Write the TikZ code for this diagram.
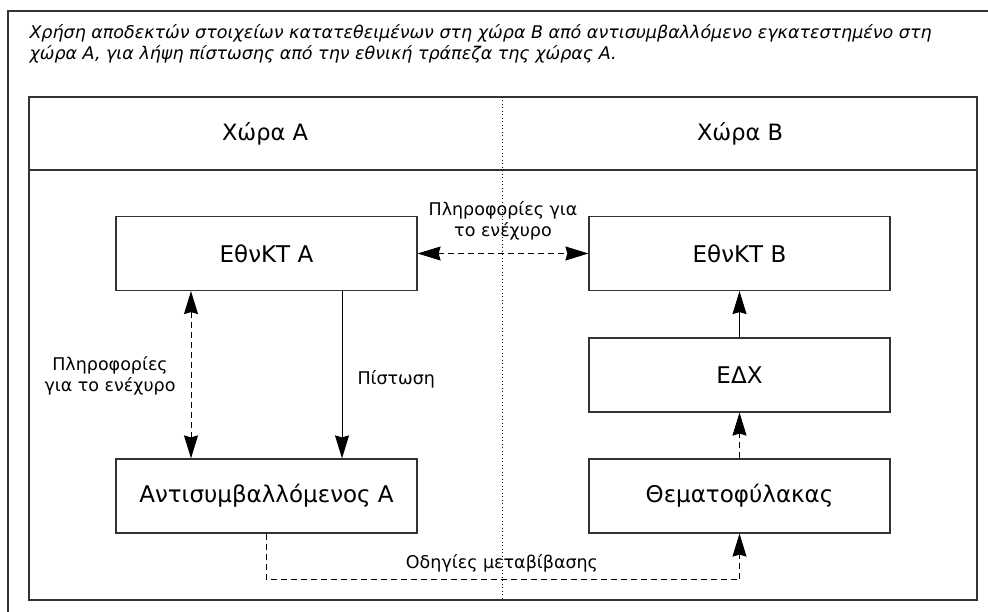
\documentclass[tikz,border=0pt]{standalone}
\usepackage{fontspec}
\setmainfont{DejaVu Sans}
\usetikzlibrary{arrows.meta}

\tikzset{
  frame/.style={draw=black!80, line width=1.3pt},
  box/.style={draw=black!80, line width=1.2pt, minimum width=301pt, minimum height=74pt,
    inner sep=0pt, font=\fontsize{23}{27}\selectfont},
  head/.style={inner sep=0pt, font=\fontsize{22.5}{27}\selectfont},
  lbl/.style={inner sep=0pt, align=center, font=\fontsize{17.5}{21}\selectfont},
  tip/.style={-{Stealth[length=23pt,width=14pt,inset=2pt]}},
  bitip/.style={{Stealth[length=23pt,width=14pt,inset=2pt]}-{Stealth[length=23pt,width=14pt,inset=2pt]}},
  dsh/.style={dash pattern=on 6pt off 4pt},
}

\begin{document}
\begin{tikzpicture}[x=1pt, y=-1pt, line width=1pt]
  \useasboundingbox (0,0) rectangle (988,612);
  % outer frame runs off the page
  \draw[frame] (988,11) -- (8,11) -- (8,612);
  \node[anchor=base west, align=left, inner sep=0pt, font=\itshape\fontsize{17.5}{21}\selectfont] (title) at (29,60)
    {Χρήση αποδεκτών στοιχείων κατατεθειμένων στη χώρα B από αντισυμβαλλόμενο εγκατεστημένο στη\\
     χώρα A, για λήψη πίστωσης από την εθνική τράπεζα της χώρας A.};

  % inner frame, header and country split
  \draw[frame] (29,97) rectangle (977,600);
  \draw[frame] (29,170) -- (977,170);
  \draw[line width=0.8pt, dash pattern=on 1pt off 2.5pt] (502,97) -- (502,600);
  \node[head] (hA) at (265,134) {Χώρα A};
  \node[head] (hB) at (740,134) {Χώρα B};

  % boxes
  \node[box] (ncbA) at (266.5,253.5) {ΕθνΚΤ A};
  \node[box] (cpty) at (266.5,496) {Αντισυμβαλλόμενος A};
  \node[box] (ncbB) at (739.5,253.5) {ΕθνΚΤ B};
  \node[box] (csd)  at (739.5,375) {ΕΔΧ};
  \node[box] (cust) at (739.5,496) {Θεματοφύλακας};

  % connectors
  \draw[bitip, dsh] (ncbA.east) -- (ncbB.west);
  \draw[bitip, dsh] ([xshift=-75.5pt]ncbA.south) -- ([xshift=-75.5pt]cpty.north);
  \draw[tip] ([xshift=75.5pt]ncbA.south) -- ([xshift=75.5pt]cpty.north);
  \draw[tip] (csd) -- (ncbB);
  \draw[tip, dsh] (cust) -- (csd);
  \draw[tip, dsh] (cpty.south) -- ++(0,46) -| (cust.south);

  % labels
  \node[lbl] (infoTop) at (503,221) {Πληροφορίες για\\το ενέχυρο};
  \node[lbl] (infoLeft) at (110,376) {Πληροφορίες\\για το ενέχυρο};
  \node[lbl, anchor=west] (credit) at (357,379) {Πίστωση};
  \node[lbl, anchor=base] (instr) at (502,568) {Οδηγίες μεταβίβασης};
\end{tikzpicture}
\end{document}
